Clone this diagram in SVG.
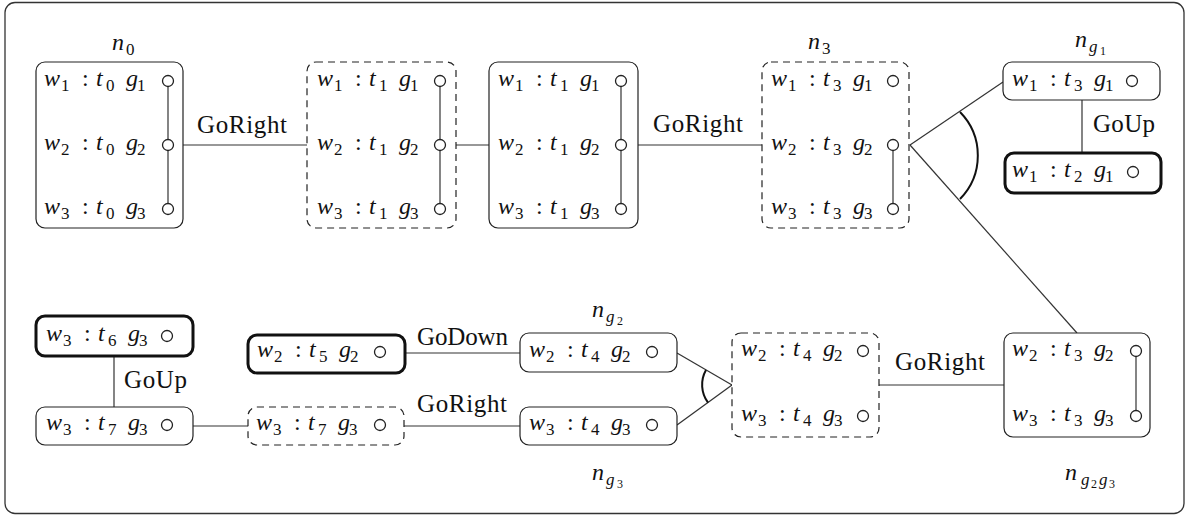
<svg xmlns="http://www.w3.org/2000/svg" width="1196" height="515" viewBox="0 0 1196 515" font-family="'Liberation Serif', 'Times New Roman', Times, serif">
<style>
.frame{fill:#fff;stroke:#333;stroke-width:1.3}
.box{fill:#fff;stroke:#222;stroke-width:1.2}
.dash{stroke-dasharray:7 5}
.bold{stroke-width:3;stroke:#111}
.pt{fill:#fff;stroke:#222;stroke-width:1.3}
.ln{stroke:#333;stroke-width:1.2;fill:none}
.arc{stroke:#111;stroke-width:2;fill:none}
text{font-family:'Liberation Serif','Times New Roman',Times,serif;fill:#111}
.m{font-size:24px;font-style:italic}
.s{font-size:17px;font-style:normal}
.ss{font-size:12px;font-style:normal}
.si{font-size:17px;font-style:italic}
.r{font-style:normal}
.lbl{font-size:25px}
</style>
<rect class="frame" x="5" y="2.5" width="1179" height="511" rx="10"/>

<g id="connectors">
<line class="ln" x1="183" y1="145" x2="307" y2="145"/>
<line class="ln" x1="456" y1="145" x2="489" y2="145"/>
<line class="ln" x1="638" y1="145" x2="762" y2="145"/>
<line class="ln" x1="910" y1="145" x2="1003" y2="82"/>
<line class="ln" x1="910" y1="145" x2="1077" y2="333"/>
<path class="arc" d="M960,112 A62,62 0 0 1 960,199"/>
<line class="ln" x1="1082" y1="100" x2="1082" y2="153"/>
<line class="ln" x1="879" y1="385" x2="1004" y2="385"/>
<line class="ln" x1="732" y1="385" x2="677" y2="353"/>
<line class="ln" x1="732" y1="385" x2="677" y2="425"/>
<path class="arc" d="M706,370 A30,30 0 0 0 708,402.6"/>
<line class="ln" x1="405" y1="353" x2="520" y2="353"/>
<line class="ln" x1="404" y1="426" x2="520" y2="426"/>
<line class="ln" x1="193" y1="426" x2="248" y2="426"/>
<line class="ln" x1="114" y1="356" x2="114" y2="407"/>
<text class="lbl" x="197" y="133" textLength="90">GoRight</text>
<text class="lbl" x="653" y="132" textLength="90">GoRight</text>
<text class="lbl" x="1093" y="132" textLength="62">GoUp</text>
<text class="lbl" x="417" y="345" textLength="91">GoDown</text>
<text class="lbl" x="417" y="412" textLength="90">GoRight</text>
<text class="lbl" x="124" y="388" textLength="63">GoUp</text>
<text class="lbl" x="895" y="370" textLength="90">GoRight</text>
</g>

<g id="n0">
<text class="m"><tspan x="112" y="50">n</tspan><tspan class="s" x="126" y="55">0</tspan></text>
<rect class="box" x="36" y="62" width="147" height="166" rx="9"/>
<line class="ln" x1="168" y1="86" x2="168" y2="140"/>
<line class="ln" x1="168" y1="150" x2="168" y2="204"/>
<circle class="pt" cx="168" cy="81" r="5.5"/>
<circle class="pt" cx="168" cy="145" r="5.5"/>
<circle class="pt" cx="168" cy="209" r="5.5"/>
<text class="m"><tspan x="44" y="86">w</tspan><tspan class="s" x="61" y="91">1</tspan><tspan class="r" x="82" y="86">:</tspan><tspan x="96" y="86">t</tspan><tspan class="s" x="106" y="91">0</tspan><tspan x="126" y="86">g</tspan><tspan class="s" x="137" y="91">1</tspan></text>
<text class="m"><tspan x="44" y="150">w</tspan><tspan class="s" x="61" y="155">2</tspan><tspan class="r" x="82" y="150">:</tspan><tspan x="96" y="150">t</tspan><tspan class="s" x="106" y="155">0</tspan><tspan x="126" y="150">g</tspan><tspan class="s" x="137" y="155">2</tspan></text>
<text class="m"><tspan x="44" y="214">w</tspan><tspan class="s" x="61" y="219">3</tspan><tspan class="r" x="82" y="214">:</tspan><tspan x="96" y="214">t</tspan><tspan class="s" x="106" y="219">0</tspan><tspan x="126" y="214">g</tspan><tspan class="s" x="137" y="219">3</tspan></text>
</g>

<g id="n1">
<rect class="box dash" x="307" y="62" width="149" height="166" rx="9"/>
<line class="ln" x1="440" y1="86" x2="440" y2="140"/>
<line class="ln" x1="440" y1="150" x2="440" y2="204"/>
<circle class="pt" cx="440" cy="81" r="5.5"/>
<circle class="pt" cx="440" cy="145" r="5.5"/>
<circle class="pt" cx="440" cy="209" r="5.5"/>
<text class="m"><tspan x="317" y="86">w</tspan><tspan class="s" x="334" y="91">1</tspan><tspan class="r" x="355" y="86">:</tspan><tspan x="369" y="86">t</tspan><tspan class="s" x="379" y="91">1</tspan><tspan x="399" y="86">g</tspan><tspan class="s" x="410" y="91">1</tspan></text>
<text class="m"><tspan x="317" y="150">w</tspan><tspan class="s" x="334" y="155">2</tspan><tspan class="r" x="355" y="150">:</tspan><tspan x="369" y="150">t</tspan><tspan class="s" x="379" y="155">1</tspan><tspan x="399" y="150">g</tspan><tspan class="s" x="410" y="155">2</tspan></text>
<text class="m"><tspan x="317" y="214">w</tspan><tspan class="s" x="334" y="219">3</tspan><tspan class="r" x="355" y="214">:</tspan><tspan x="369" y="214">t</tspan><tspan class="s" x="379" y="219">1</tspan><tspan x="399" y="214">g</tspan><tspan class="s" x="410" y="219">3</tspan></text>
</g>

<g id="n2">
<rect class="box" x="489" y="62" width="149" height="166" rx="9"/>
<line class="ln" x1="621" y1="86" x2="621" y2="140"/>
<line class="ln" x1="621" y1="150" x2="621" y2="204"/>
<circle class="pt" cx="621" cy="81" r="5.5"/>
<circle class="pt" cx="621" cy="145" r="5.5"/>
<circle class="pt" cx="621" cy="209" r="5.5"/>
<text class="m"><tspan x="498" y="86">w</tspan><tspan class="s" x="515" y="91">1</tspan><tspan class="r" x="536" y="86">:</tspan><tspan x="550" y="86">t</tspan><tspan class="s" x="560" y="91">1</tspan><tspan x="580" y="86">g</tspan><tspan class="s" x="591" y="91">1</tspan></text>
<text class="m"><tspan x="498" y="150">w</tspan><tspan class="s" x="515" y="155">2</tspan><tspan class="r" x="536" y="150">:</tspan><tspan x="550" y="150">t</tspan><tspan class="s" x="560" y="155">1</tspan><tspan x="580" y="150">g</tspan><tspan class="s" x="591" y="155">2</tspan></text>
<text class="m"><tspan x="498" y="214">w</tspan><tspan class="s" x="515" y="219">3</tspan><tspan class="r" x="536" y="214">:</tspan><tspan x="550" y="214">t</tspan><tspan class="s" x="560" y="219">1</tspan><tspan x="580" y="214">g</tspan><tspan class="s" x="591" y="219">3</tspan></text>
</g>

<g id="n3">
<text class="m"><tspan x="808" y="49">n</tspan><tspan class="s" x="822" y="54">3</tspan></text>
<rect class="box dash" x="762" y="62" width="147" height="166" rx="9"/>
<line class="ln" x1="893" y1="150" x2="893" y2="204"/>
<circle class="pt" cx="893" cy="81" r="5.5"/>
<circle class="pt" cx="893" cy="145" r="5.5"/>
<circle class="pt" cx="893" cy="209" r="5.5"/>
<text class="m"><tspan x="771" y="86">w</tspan><tspan class="s" x="788" y="91">1</tspan><tspan class="r" x="809" y="86">:</tspan><tspan x="823" y="86">t</tspan><tspan class="s" x="833" y="91">3</tspan><tspan x="853" y="86">g</tspan><tspan class="s" x="864" y="91">1</tspan></text>
<text class="m"><tspan x="771" y="150">w</tspan><tspan class="s" x="788" y="155">2</tspan><tspan class="r" x="809" y="150">:</tspan><tspan x="823" y="150">t</tspan><tspan class="s" x="833" y="155">3</tspan><tspan x="853" y="150">g</tspan><tspan class="s" x="864" y="155">2</tspan></text>
<text class="m"><tspan x="771" y="214">w</tspan><tspan class="s" x="788" y="219">3</tspan><tspan class="r" x="809" y="214">:</tspan><tspan x="823" y="214">t</tspan><tspan class="s" x="833" y="219">3</tspan><tspan x="853" y="214">g</tspan><tspan class="s" x="864" y="219">3</tspan></text>
</g>

<g id="ng1">
<text class="m"><tspan x="1075" y="47">n</tspan><tspan class="si" x="1089" y="52">g</tspan><tspan class="ss" x="1100" y="55">1</tspan></text>
<rect class="box" x="1003" y="62" width="157" height="38" rx="9"/>
<circle class="pt" cx="1132" cy="81" r="5.5"/>
<text class="m"><tspan x="1012" y="86">w</tspan><tspan class="s" x="1029" y="91">1</tspan><tspan class="r" x="1050" y="86">:</tspan><tspan x="1064" y="86">t</tspan><tspan class="s" x="1074" y="91">3</tspan><tspan x="1094" y="86">g</tspan><tspan class="s" x="1105" y="91">1</tspan></text>
</g>

<g id="ng1goal">
<rect class="box bold" x="1005" y="153" width="156" height="40" rx="9"/>
<circle class="pt" cx="1133" cy="172" r="5.5"/>
<text class="m"><tspan x="1012" y="177">w</tspan><tspan class="s" x="1029" y="182">1</tspan><tspan class="r" x="1050" y="177">:</tspan><tspan x="1064" y="177">t</tspan><tspan class="s" x="1074" y="182">2</tspan><tspan x="1094" y="177">g</tspan><tspan class="s" x="1105" y="182">1</tspan></text>
</g>

<g id="ng2g3">
<text class="m"><tspan x="1065" y="480">n</tspan><tspan class="si" x="1081" y="485">g</tspan><tspan class="ss" x="1091" y="488">2</tspan><tspan class="si" x="1099" y="485">g</tspan><tspan class="ss" x="1109" y="488">3</tspan></text>
<rect class="box" x="1004" y="333" width="146" height="104" rx="9"/>
<line class="ln" x1="1136" y1="356" x2="1136" y2="411"/>
<circle class="pt" cx="1136" cy="351" r="5.5"/>
<circle class="pt" cx="1136" cy="416" r="5.5"/>
<text class="m"><tspan x="1012" y="356">w</tspan><tspan class="s" x="1029" y="361">2</tspan><tspan class="r" x="1050" y="356">:</tspan><tspan x="1064" y="356">t</tspan><tspan class="s" x="1074" y="361">3</tspan><tspan x="1094" y="356">g</tspan><tspan class="s" x="1105" y="361">2</tspan></text>
<text class="m"><tspan x="1012" y="421">w</tspan><tspan class="s" x="1029" y="426">3</tspan><tspan class="r" x="1050" y="421">:</tspan><tspan x="1064" y="421">t</tspan><tspan class="s" x="1074" y="426">3</tspan><tspan x="1094" y="421">g</tspan><tspan class="s" x="1105" y="426">3</tspan></text>
</g>

<g id="nsplit">
<rect class="box dash" x="732" y="333" width="147" height="104" rx="9"/>
<circle class="pt" cx="863" cy="351" r="5.5"/>
<circle class="pt" cx="863" cy="416" r="5.5"/>
<text class="m"><tspan x="741" y="356">w</tspan><tspan class="s" x="758" y="361">2</tspan><tspan class="r" x="779" y="356">:</tspan><tspan x="793" y="356">t</tspan><tspan class="s" x="803" y="361">4</tspan><tspan x="823" y="356">g</tspan><tspan class="s" x="834" y="361">2</tspan></text>
<text class="m"><tspan x="741" y="421">w</tspan><tspan class="s" x="758" y="426">3</tspan><tspan class="r" x="779" y="421">:</tspan><tspan x="793" y="421">t</tspan><tspan class="s" x="803" y="426">4</tspan><tspan x="823" y="421">g</tspan><tspan class="s" x="834" y="426">3</tspan></text>
</g>

<g id="ng2">
<text class="m"><tspan x="592" y="317">n</tspan><tspan class="si" x="606" y="322">g</tspan><tspan class="ss" x="617" y="325">2</tspan></text>
<rect class="box" x="520" y="333" width="157" height="39" rx="9"/>
<circle class="pt" cx="652" cy="352" r="5.5"/>
<text class="m"><tspan x="529" y="357">w</tspan><tspan class="s" x="546" y="362">2</tspan><tspan class="r" x="567" y="357">:</tspan><tspan x="581" y="357">t</tspan><tspan class="s" x="591" y="362">4</tspan><tspan x="611" y="357">g</tspan><tspan class="s" x="622" y="362">2</tspan></text>
</g>

<g id="ng3">
<text class="m"><tspan x="592" y="480">n</tspan><tspan class="si" x="606" y="485">g</tspan><tspan class="ss" x="617" y="488">3</tspan></text>
<rect class="box" x="520" y="407" width="157" height="38" rx="9"/>
<circle class="pt" cx="652" cy="425" r="5.5"/>
<text class="m"><tspan x="529" y="430">w</tspan><tspan class="s" x="546" y="435">3</tspan><tspan class="r" x="567" y="430">:</tspan><tspan x="581" y="430">t</tspan><tspan class="s" x="591" y="435">4</tspan><tspan x="611" y="430">g</tspan><tspan class="s" x="622" y="435">3</tspan></text>
</g>

<g id="ng2goal">
<rect class="box bold" x="248" y="335" width="157" height="38" rx="9"/>
<circle class="pt" cx="380" cy="352" r="5.5"/>
<text class="m"><tspan x="257" y="357">w</tspan><tspan class="s" x="274" y="362">2</tspan><tspan class="r" x="295" y="357">:</tspan><tspan x="309" y="357">t</tspan><tspan class="s" x="319" y="362">5</tspan><tspan x="339" y="357">g</tspan><tspan class="s" x="350" y="362">2</tspan></text>
</g>

<g id="n7dash">
<rect class="box dash" x="248" y="407" width="156" height="38" rx="9"/>
<circle class="pt" cx="380" cy="425" r="5.5"/>
<text class="m"><tspan x="256" y="430">w</tspan><tspan class="s" x="273" y="435">3</tspan><tspan class="r" x="294" y="430">:</tspan><tspan x="308" y="430">t</tspan><tspan class="s" x="318" y="435">7</tspan><tspan x="338" y="430">g</tspan><tspan class="s" x="349" y="435">3</tspan></text>
</g>

<g id="n7">
<rect class="box" x="36" y="407" width="157" height="38" rx="9"/>
<circle class="pt" cx="167" cy="425" r="5.5"/>
<text class="m"><tspan x="46" y="430">w</tspan><tspan class="s" x="63" y="435">3</tspan><tspan class="r" x="84" y="430">:</tspan><tspan x="98" y="430">t</tspan><tspan class="s" x="108" y="435">7</tspan><tspan x="128" y="430">g</tspan><tspan class="s" x="139" y="435">3</tspan></text>
</g>

<g id="ng3goal">
<rect class="box bold" x="36" y="316" width="157" height="40" rx="9"/>
<circle class="pt" cx="167" cy="336" r="5.5"/>
<text class="m"><tspan x="46" y="341">w</tspan><tspan class="s" x="63" y="346">3</tspan><tspan class="r" x="84" y="341">:</tspan><tspan x="98" y="341">t</tspan><tspan class="s" x="108" y="346">6</tspan><tspan x="128" y="341">g</tspan><tspan class="s" x="139" y="346">3</tspan></text>
</g>
</svg>
